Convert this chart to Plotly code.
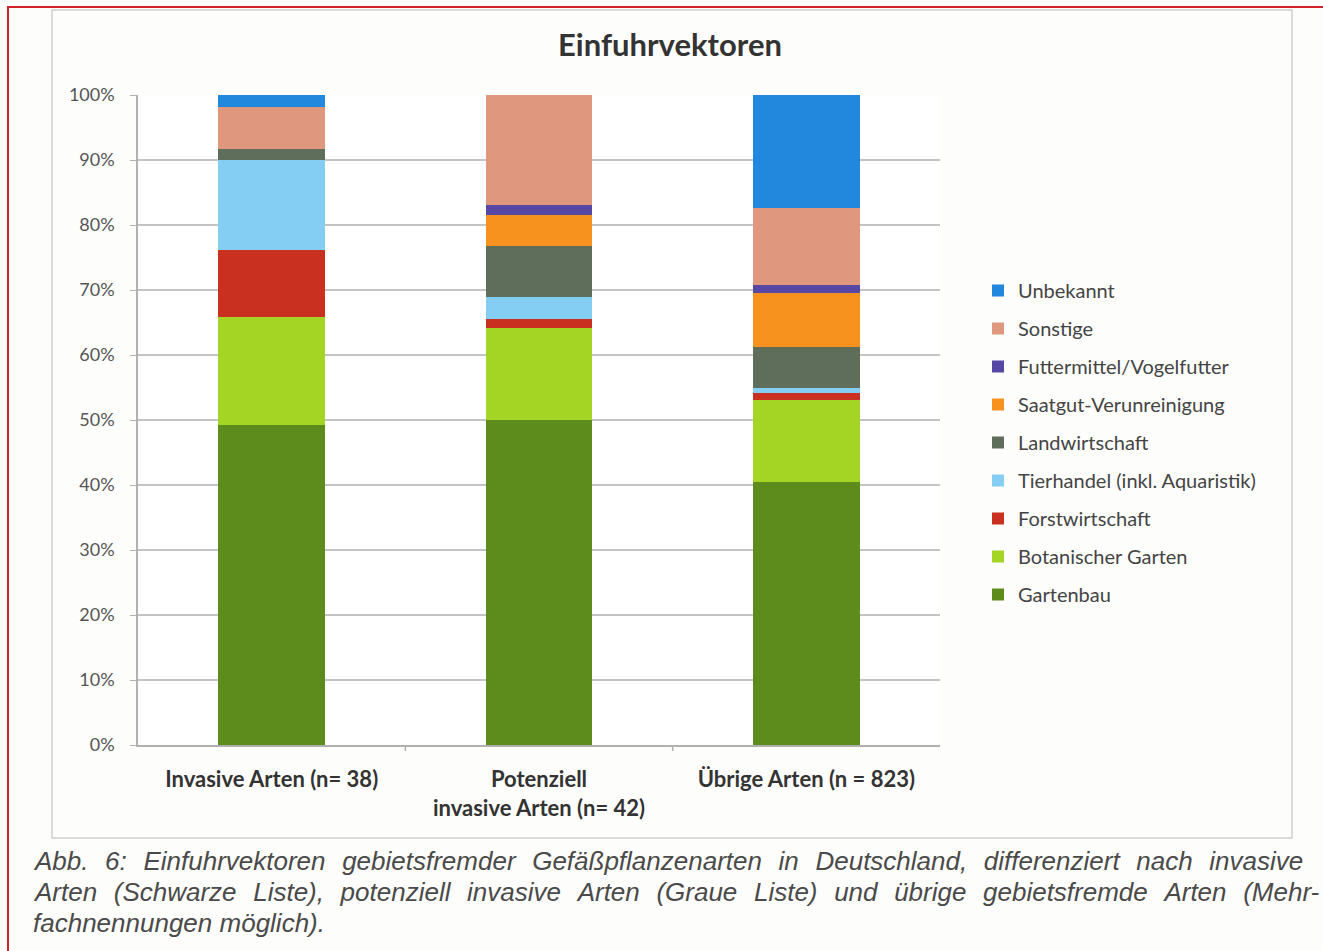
import plotly.graph_objects as go

categories = ["Invasive Arten (n= 38)", "Potenziell<br>invasive Arten (n= 42)", "Übrige Arten (n = 823)"]

series_names = ["Gartenbau", "Botanischer Garten", "Forstwirtschaft", "Tierhandel (inkl. Aquaristik)",
                "Landwirtschaft", "Saatgut-Verunreinigung", "Futtermittel/Vogelfutter", "Sonstige", "Unbekannt"]

gartenbau = [49.2, 50.0, 40.5]
botanischer_garten = [16.7, 14.1, 12.6]
forstwirtschaft = [10.3, 1.5, 1.0]
tierhandel = [13.8, 3.4, 0.8]
landwirtschaft = [1.7, 7.7, 6.4]
saatgut = [0.0, 4.8, 8.2]
futtermittel = [0.0, 1.6, 1.3]
sonstige = [6.5, 16.9, 11.8]
unbekannt = [1.8, 0.0, 17.4]

series_values = [gartenbau, botanischer_garten, forstwirtschaft, tierhandel, landwirtschaft,
                 saatgut, futtermittel, sonstige, unbekannt]
colors = ["#5e8c1c", "#a4d424", "#c9301f", "#84cdf3", "#5f6e5b", "#f7921f", "#5848a6", "#df977d", "#2188de"]

y_ticks = [0, 10, 20, 30, 40, 50, 60, 70, 80, 90, 100]
y_tick_labels = [f"{v}%" for v in y_ticks]

caption_lines = [
    "Abb. 6: Einfuhrvektoren gebietsfremder Gefäßpflanzenarten in Deutschland, differenziert nach invasive",
    "Arten (Schwarze Liste), potenziell invasive Arten (Graue Liste) und übrige gebietsfremde Arten (Mehr-",
    "fachnennungen möglich).",
]
caption_justify = [True, True, False]

W, H = 1323, 951
L, R, T, B = 138, 940, 95, 745

fig = go.Figure()
n = len(series_names)
for i, (name, vals, col) in enumerate(zip(series_names, series_values, colors)):
    fig.add_trace(go.Bar(x=categories, y=vals, name=name, marker_color=col,
                         marker_line_width=0, legendgroup=name, legendrank=n - i))

def px_x(p):
    return (p - L) / (R - L)

def px_y(p):
    return (B - p) / (B - T)

shapes = [
    # outer red border (open at right and bottom, as in the scan)
    dict(type="rect", xref="paper", yref="paper", x0=px_x(8), x1=px_x(W + 30), y0=px_y(H + 30), y1=px_y(7),
         line=dict(color="#d2232a", width=2), layer="below"),
    # inner chart frame
    dict(type="rect", xref="paper", yref="paper", x0=px_x(52), x1=px_x(1292), y0=px_y(838), y1=px_y(10),
         line=dict(color="#cfcfcf", width=1.5), layer="below"),
    # category boundary ticks on x axis
    dict(type="line", xref="paper", yref="paper", x0=1 / 3, x1=1 / 3, y0=0, y1=px_y(B + 6),
         line=dict(color="#b0b0b0", width=1.5)),
    dict(type="line", xref="paper", yref="paper", x0=2 / 3, x1=2 / 3, y0=0, y1=px_y(B + 6),
         line=dict(color="#b0b0b0", width=1.5)),
]

annotations = []
for i, (line, just) in enumerate(zip(caption_lines, caption_justify)):
    txt = line.replace(" ", " \u00a0\u200a") if just else line
    annotations.append(dict(text=txt, xref="paper", yref="paper", x=px_x(31), y=px_y(861 + i * 31),
                            xanchor="left", yanchor="middle", showarrow=False,
                            font=dict(family="Liberation Sans, Arial, sans-serif", size=26,
                                      color="#4a4a4a", style="italic")))

fig.update_layout(
    width=W, height=H,
    margin=dict(l=L, r=W - R, t=T, b=H - B),
    paper_bgcolor="#fdfdfb", plot_bgcolor="#ffffff",
    barmode="stack", bargap=0.6,
    title=dict(text="<b>Einfuhrvektoren</b>", x=670 / W, xanchor="center", y=1 - 45 / H, yanchor="middle",
               font=dict(family="Lato, sans-serif", size=31, color="#333333")),
    font=dict(family="Lato, sans-serif", color="#444444"),
    showlegend=True,
    legend=dict(traceorder="grouped", tracegroupgap=9, x=px_x(978), y=px_y(271),
                xanchor="left", yanchor="top", itemwidth=30, bgcolor="rgba(0,0,0,0)",
                font=dict(family="Lato, sans-serif", size=20, color="#444444")),
    xaxis=dict(showline=True, linecolor="#b0b0b0", linewidth=1.5, ticks="", showgrid=False,
               ticklabelstandoff=14,
               tickfont=dict(family="Lato, sans-serif", size=22, color="#333333"),
               tickprefix="<b>", ticksuffix="</b>"),
    yaxis=dict(range=[0, 100], tickvals=y_ticks, ticktext=y_tick_labels, showgrid=True,
               gridcolor="#c4c4c4", gridwidth=1.5, showline=True, linecolor="#b0b0b0", linewidth=1.5,
               ticks="outside", ticklen=6, tickcolor="#b0b0b0", ticklabelstandoff=12,
               tickfont=dict(family="Lato, sans-serif", size=18, color="#555555"), zeroline=False),
    shapes=shapes, annotations=annotations,
)

fig.write_html("out.html", config={"displayModeBar": False},
               post_script="document.body.style.margin='0';document.body.style.overflow='hidden';")
